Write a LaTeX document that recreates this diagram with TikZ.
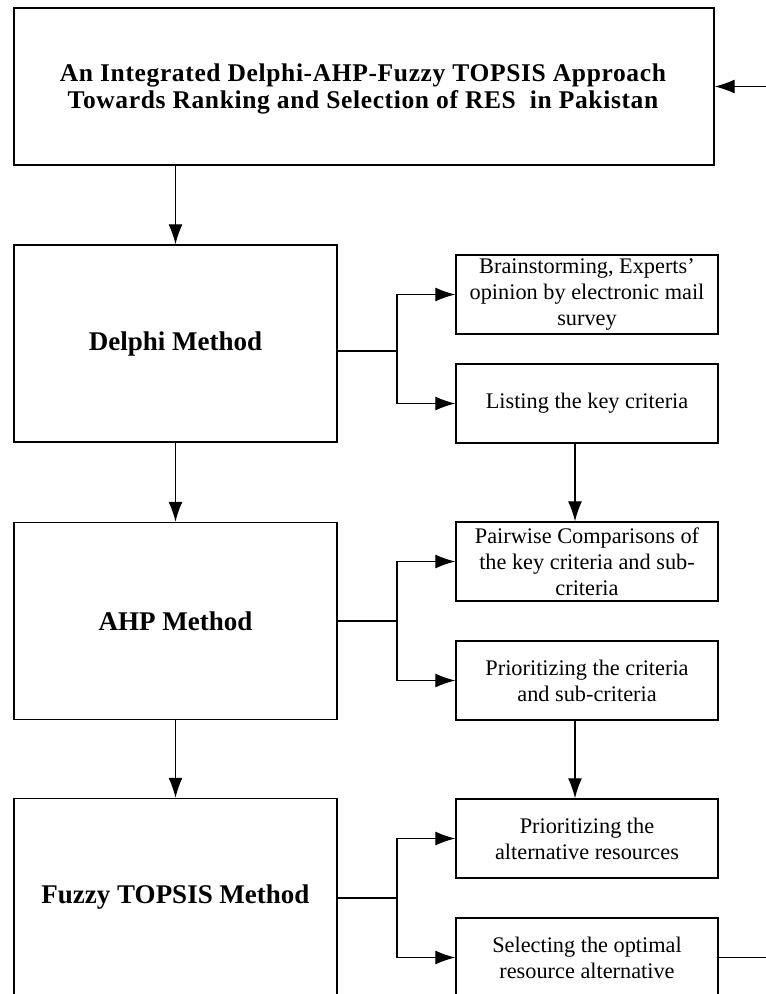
\documentclass[tikz,border=0pt]{standalone}
\usepackage{fontspec}
\setmainfont{Liberation Serif}
\newfontfamily\titlefont[LetterSpace=2.5]{Liberation Serif}
\usetikzlibrary{arrows.meta}
\begin{document}
\begin{tikzpicture}[x=1pt,y=-1pt,
  box/.style={draw, line width=1.4pt, inner sep=0pt, align=center},
  bigbox/.style={box, minimum width=323pt, minimum height=197pt, font=\fontsize{27}{30}\selectfont\bfseries},
  smallbox/.style={box, minimum width=262pt, minimum height=79pt, font=\fontsize{22.3}{26}\selectfont},
  conn/.style={line width=1.3pt},
  arr/.style={conn, -{Latex[length=20pt,width=14pt]}}
]
\useasboundingbox (0,0) rectangle (766,994);
\clip (0,0) rectangle (766,994);

\node[box, minimum width=700pt, minimum height=157pt] (title) at (364,86.5) {};
\node[font=\titlefont\fontsize{25.5}{27}\selectfont\bfseries, align=center, inner sep=0pt] (titletext) at (363,89)
  {An Integrated Delphi-AHP-Fuzzy TOPSIS Approach\\Towards Ranking and Selection of RES\ \ in Pakistan};

\node[bigbox] (delphi) at (175.5,343.5) {Delphi Method};
\node[bigbox] (ahp) at (175.5,621) {AHP Method};
\node[bigbox] (fuzzy) at (175.5,897) {Fuzzy TOPSIS Method};

\node[smallbox] (brain) at (587,294.5) {Brainstorming, Experts'\\opinion by electronic mail\\survey};
\node[smallbox] (list) at (587,403.5) {Listing the key criteria};
\node[smallbox] (pair) at (587,561.5) {Pairwise Comparisons of\\the key criteria and sub-\\criteria};
\node[smallbox] (prio) at (587,680.5) {Prioritizing the criteria\\and sub-criteria};
\node[smallbox] (alt) at (587,838.5) {Prioritizing the\\alternative resources};
\node[smallbox] (sel) at (587,957.5) {Selecting the optimal\\resource alternative};

\draw[arr] (title.south -| delphi.north) -- (delphi.north);
\draw[arr] (delphi.south) -- (ahp.north);
\draw[arr] (ahp.south) -- (fuzzy.north);

\draw[arr] (list.south -| 575,0) -- (pair.north -| 575,0);
\draw[arr] (prio.south -| 575,0) -- (alt.north -| 575,0);

\coordinate (b1) at (397,351);
\draw[conn] (b1 -| delphi.east) -- (b1);
\draw[arr] (b1) |- (brain.west);
\draw[arr] (b1) |- (list.west);

\coordinate (b2) at (397,621);
\draw[conn] (ahp.east) -- (b2);
\draw[arr] (b2) |- (pair.west);
\draw[arr] (b2) |- (prio.west);

\coordinate (b3) at (397,898);
\draw[conn] (b3 -| fuzzy.east) -- (b3);
\draw[arr] (b3) |- (alt.west);
\draw[arr] (b3) |- (sel.west);

\coordinate (loop) at (790,957.5);
\draw[arr] (sel.east) -- (loop) |- (title.east);
\end{tikzpicture}
\end{document}
